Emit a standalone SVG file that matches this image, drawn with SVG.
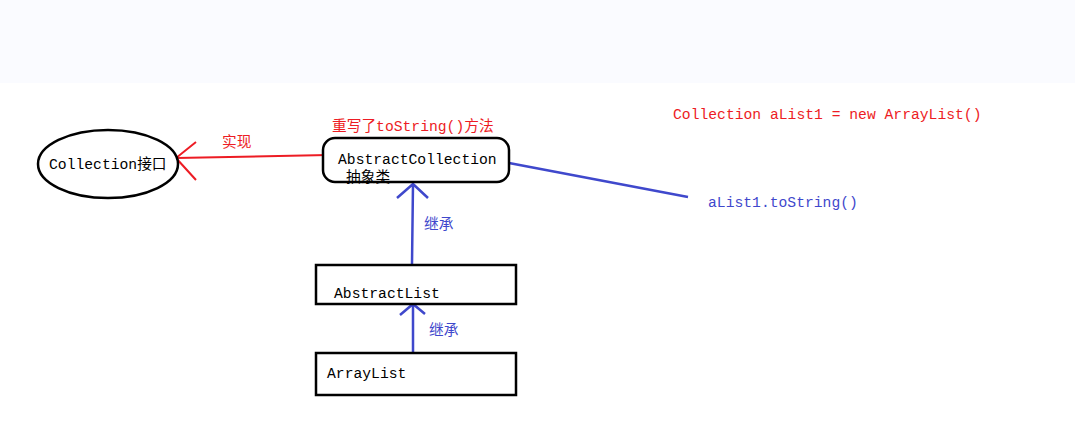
<svg xmlns="http://www.w3.org/2000/svg" width="1075" height="427" viewBox="0 0 1075 427">
<style>
.t{font-family:"Liberation Mono","Noto Sans CJK SC",monospace;font-size:14.7px}
.k{fill:#000}
.r{fill:#ed1c24}
.b{fill:#3f48cc}
.box{fill:#fff;stroke:#000;stroke-width:2.5}
.rl{stroke:#ed1c24;stroke-width:2;fill:none}
.bl{stroke:#3f48cc;stroke-width:2.5;fill:none}
</style>
<rect x="0" y="0" width="1075" height="427" fill="#fff"/>
<rect x="0" y="0" width="1075" height="83" fill="#fafbff"/>
<g id="connectors">
<path class="rl" d="M328 155 L176 158 M196 142 L176 158 L196 180"/>
<path class="bl" d="M509 163 L688 197"/>
<path class="bl" d="M412 264 L413 184 M397 198 L413 184 L428 198"/>
<path class="bl" d="M413 353 L413 304 M400 315 L413 304 L425 314"/>
</g>
<g id="collection">
<ellipse class="box" cx="108" cy="164" rx="70" ry="34"/>
<text class="t k" x="49" y="169" font-size="14.5">Collection接口</text>
</g>
<g id="abstractCollection">
<rect class="box" x="323" y="138" width="186" height="44" rx="12"/>
<text class="t k" x="338" y="164" font-size="15">AbstractCollection</text>
<text class="t k" x="346" y="182" font-size="16">抽象类</text>
</g>
<g id="abstractList">
<rect class="box" x="316" y="265" width="200" height="39"/>
<text class="t k" x="334" y="298">AbstractList</text>
</g>
<g id="arrayList">
<rect class="box" x="316" y="353" width="200" height="42"/>
<text class="t k" x="327" y="378">ArrayList</text>
</g>
<g id="labels">
<text class="t r" x="222" y="147" font-size="16.5">实现</text>
<text class="t r" x="332" y="131" font-size="15.2">重写了toString()方法</text>
<text class="t r" x="673" y="119" font-size="14.9">Collection aList1 = new ArrayList()</text>
<text class="t b" x="708" y="207" font-size="14.4">aList1.toString()</text>
<text class="t b" x="424" y="229" font-size="15.5">继承</text>
<text class="t b" x="429" y="335" font-size="15.5">继承</text>
</g>
</svg>
